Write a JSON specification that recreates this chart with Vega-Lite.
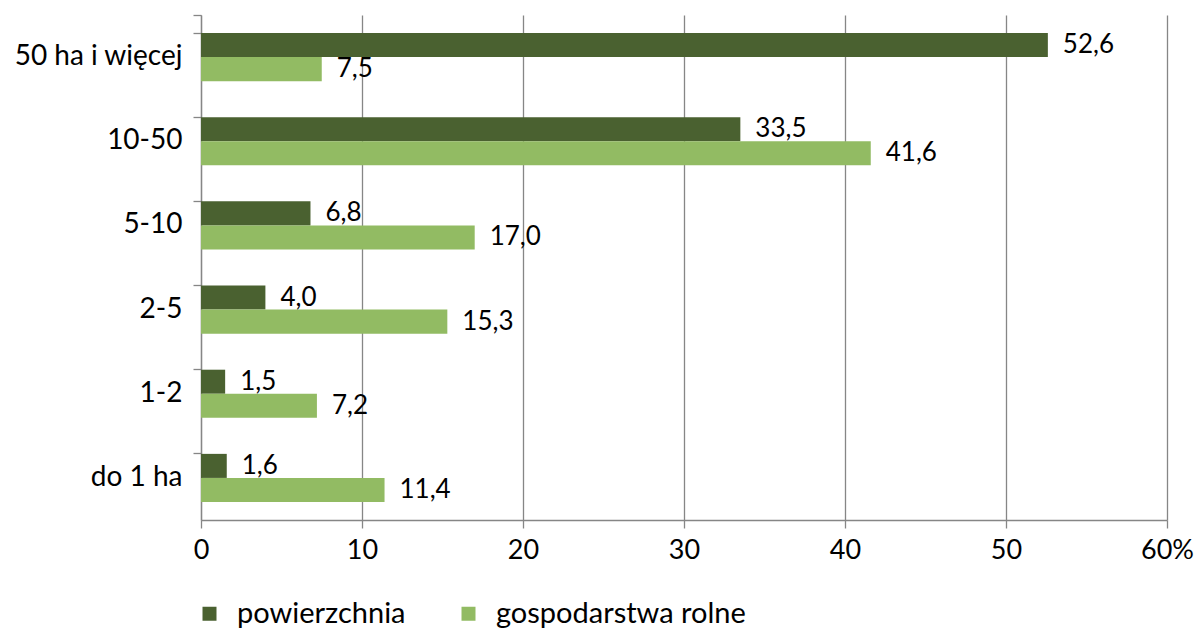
{
  "$schema": "https://vega.github.io/schema/vega-lite/v6.json",
  "autosize": {"type": "none"},
  "width": 966,
  "height": 505,
  "padding": {"left": 201, "top": 15, "right": 37, "bottom": 111},
  "background": "white",
  "config": {
    "locale": {"number": {"decimal": ",", "thousands": " ", "grouping": [3], "currency": ["", " zł"]}},
    "font": "Lato",
    "view": {"stroke": null},
    "axis": {"labelFont": "Lato", "labelFontSize": 27, "labelColor": "#000000", "domainColor": "#868686", "tickColor": "#868686", "gridColor": "#868686", "domainWidth": 1.3, "tickWidth": 1.3, "gridWidth": 1.3},
    "legend": {"labelFont": "Lato", "labelFontSize": 29, "labelColor": "#000000", "labelLimit": 400}
  },
  "data": {
    "values": [
      {"kat": "50 ha i więcej", "seria": "powierzchnia", "wartosc": 52.6},
      {"kat": "50 ha i więcej", "seria": "gospodarstwa rolne", "wartosc": 7.5},
      {"kat": "10-50", "seria": "powierzchnia", "wartosc": 33.5},
      {"kat": "10-50", "seria": "gospodarstwa rolne", "wartosc": 41.6},
      {"kat": "5-10", "seria": "powierzchnia", "wartosc": 6.8},
      {"kat": "5-10", "seria": "gospodarstwa rolne", "wartosc": 17.0},
      {"kat": "2-5", "seria": "powierzchnia", "wartosc": 4.0},
      {"kat": "2-5", "seria": "gospodarstwa rolne", "wartosc": 15.3},
      {"kat": "1-2", "seria": "powierzchnia", "wartosc": 1.5},
      {"kat": "1-2", "seria": "gospodarstwa rolne", "wartosc": 7.2},
      {"kat": "do 1 ha", "seria": "powierzchnia", "wartosc": 1.6},
      {"kat": "do 1 ha", "seria": "gospodarstwa rolne", "wartosc": 11.4}
    ]
  },
  "encoding": {
    "y": {
      "field": "kat", "type": "nominal",
      "sort": ["50 ha i więcej", "10-50", "5-10", "2-5", "1-2", "do 1 ha"],
      "scale": {"paddingInner": 0.4286, "paddingOuter": 0.2143},
      "axis": {"title": null, "bandPosition": 0, "tickExtra": true, "tickSize": 8, "labelPadding": 11, "grid": false, "domain": true, "labelFontSize": 28}
    },
    "yOffset": {
      "field": "seria", "type": "nominal",
      "sort": ["powierzchnia", "gospodarstwa rolne"],
      "scale": {"paddingInner": 0, "paddingOuter": 0}
    },
    "x": {
      "field": "wartosc", "type": "quantitative",
      "scale": {"domain": [0, 60], "nice": false},
      "axis": {"title": null, "values": [0, 10, 20, 30, 40, 50, 60], "tickSize": 8, "labelPadding": 9, "grid": true, "labelFlush": false, "format": "d", "labelExpr": "datum.value == 60 ? '60%' : datum.label"}
    }
  },
  "layer": [
    {
      "mark": {"type": "bar", "cornerRadius": 0},
      "encoding": {
        "color": {
          "field": "seria", "type": "nominal",
          "sort": ["powierzchnia", "gospodarstwa rolne"],
          "scale": {"domain": ["powierzchnia", "gospodarstwa rolne"], "range": ["#4A6130", "#92BB63"]},
          "legend": {
            "title": null, "orient": "none", "legendX": -6, "legendY": 584,
            "direction": "horizontal", "columns": 2, "columnPadding": 48,
            "symbolType": "square", "symbolSize": 196, "symbolStrokeWidth": 0,
            "labelFont": "Lato", "labelFontSize": 29, "labelColor": "#000000", "labelOffset": 13, "labelLimit": 400
          }
        }
      }
    },
    {
      "mark": {"type": "text", "align": "left", "baseline": "middle", "dx": 15, "font": "Lato", "fontSize": 26, "color": "#000000"},
      "encoding": {
        "text": {"field": "wartosc", "type": "quantitative", "format": ".1f"}
      }
    }
  ]
}
